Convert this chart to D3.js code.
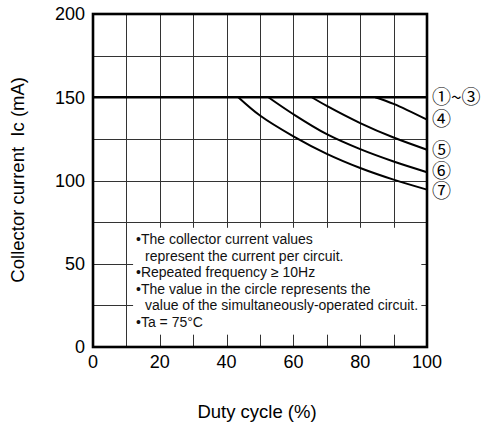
<!DOCTYPE html>
<html>
<head>
<meta charset="utf-8">
<script src="https://cdn.jsdelivr.net/npm/d3@7"></script>
<style>
  body { margin: 0; background: #fff; }
  svg { display: block; font-family: "Liberation Sans", Arial, sans-serif; }
</style>
</head>
<body>
<div id="chart"></div>
<script>
// Data
const xTicks = [0, 20, 40, 60, 80, 100];
const yTicks = [0, 50, 100, 150, 200];
const xGrid = [10, 20, 30, 40, 50, 60, 70, 80, 90];
const yGrid = [25, 50, 75, 100, 125, 150, 175];

const curve13 = [{x: 0, y: 150}, {x: 100, y: 150}];
const curve4 = [{x: 84.5, y: 150}, {x: 90, y: 146}, {x: 100, y: 136.5}];
const curve5 = [{x: 65.5, y: 150}, {x: 70, y: 144.8}, {x: 80, y: 134.5}, {x: 90, y: 125.8}, {x: 100, y: 118.5}];
const curve6 = [{x: 52.5, y: 150}, {x: 60, y: 139.8}, {x: 70, y: 127.8}, {x: 80, y: 118.8}, {x: 90, y: 111.4}, {x: 100, y: 105}];
const curve7 = [{x: 43.5, y: 150}, {x: 50, y: 139}, {x: 60, y: 126.5}, {x: 70, y: 116}, {x: 80, y: 107.5}, {x: 90, y: 100.5}, {x: 100, y: 94.5}];

const curves = [curve4, curve5, curve6, curve7];
const curveLabels = ["④", "⑤", "⑥", "⑦"];
const labelValues = [137, 118.5, 105.5, 93.5];

const notes = [
  {text: "•The collector current values", indent: false},
  {text: "represent the current per circuit.", indent: true},
  {text: "•Repeated frequency ≥ 10Hz", indent: false},
  {text: "•The value in the circle represents the", indent: false},
  {text: "value of the simultaneously-operated circuit.", indent: true},
  {text: "•Ta = 75°C", indent: false}
];

const width = 484, height = 427;
const margin = {top: 14, right: 57, bottom: 80, left: 93};

const svg = d3.select("#chart").append("svg")
  .attr("width", width)
  .attr("height", height);

const x = d3.scaleLinear().domain([0, 100]).range([margin.left, width - margin.right]);
const y = d3.scaleLinear().domain([0, 200]).range([height - margin.bottom, margin.top]);

// grid
svg.append("g").selectAll("line")
  .data(xGrid)
  .enter().append("line")
  .attr("x1", d => Math.round(x(d)) + 0.5)
  .attr("x2", d => Math.round(x(d)) + 0.5)
  .attr("y1", y(0))
  .attr("y2", y(200))
  .attr("stroke", "#333")
  .attr("stroke-width", 1);

svg.append("g").selectAll("line")
  .data(yGrid)
  .enter().append("line")
  .attr("x1", x(0))
  .attr("x2", x(100))
  .attr("y1", d => Math.round(y(d)) + 0.5)
  .attr("y2", d => Math.round(y(d)) + 0.5)
  .attr("stroke", "#333")
  .attr("stroke-width", 1);

// note box hides the grid behind it
svg.append("rect")
  .attr("x", x(12))
  .attr("y", y(71.6))
  .attr("width", x(98.3) - x(12))
  .attr("height", y(7.4) - y(71.6))
  .attr("fill", "#fff");

const noteG = svg.append("g")
  .style("font-size", "14px")
  .attr("fill", "#111");
notes.forEach((n, i) => {
  noteG.append("text")
    .attr("x", n.indent ? 145 : 136)
    .attr("y", 244 + i * 16.5)
    .text(n.text);
});

// curves
const line = d3.line()
  .x(d => x(d.x))
  .y(d => y(d.y))
  .curve(d3.curveCatmullRom.alpha(0.5));

svg.append("path")
  .datum(curve13)
  .attr("fill", "none")
  .attr("stroke", "#000")
  .attr("stroke-width", 2.6)
  .attr("d", line);

curves.forEach(c => {
  svg.append("path")
    .datum(c)
    .attr("fill", "none")
    .attr("stroke", "#000")
    .attr("stroke-width", 2)
    .attr("d", line);
});

// frame
svg.append("rect")
  .attr("x", x(0))
  .attr("y", y(200))
  .attr("width", x(100) - x(0))
  .attr("height", y(0) - y(200))
  .attr("fill", "none")
  .attr("stroke", "#000")
  .attr("stroke-width", 2.6);

// tick labels
svg.append("g").selectAll("text")
  .data(xTicks)
  .enter().append("text")
  .attr("x", d => x(d))
  .attr("y", y(0) + 21)
  .attr("text-anchor", "middle")
  .style("font-size", "18px")
  .text(d => d);

svg.append("g").selectAll("text")
  .data(yTicks)
  .enter().append("text")
  .attr("x", x(0) - 8)
  .attr("y", d => y(d))
  .attr("dy", "0.35em")
  .attr("text-anchor", "end")
  .style("font-size", "18px")
  .text(d => d);

// circled labels at right
const labelG = svg.append("g")
  .style("font-family", "'Noto Sans CJK JP', 'DejaVu Sans', sans-serif")
  .style("font-size", "19px");
labelG.append("text")
  .attr("x", x(100) + 5)
  .attr("y", y(150))
  .attr("dy", "0.36em")
  .text("①~③");
curveLabels.forEach((t, i) => {
  labelG.append("text")
    .attr("x", x(100) + 5)
    .attr("y", y(labelValues[i]))
    .attr("dy", "0.36em")
    .text(t);
});

// axis titles
svg.append("text")
  .attr("x", 257)
  .attr("y", 418)
  .attr("text-anchor", "middle")
  .style("font-size", "18.5px")
  .text("Duty cycle (%)");

svg.append("text")
  .attr("transform", `translate(24, ${y(100.4)}) rotate(-90)`)
  .attr("text-anchor", "middle")
  .style("font-size", "18.5px")
  .style("white-space", "pre")
  .text("Collector current  Ic (mA)");
</script>
</body>
</html>
